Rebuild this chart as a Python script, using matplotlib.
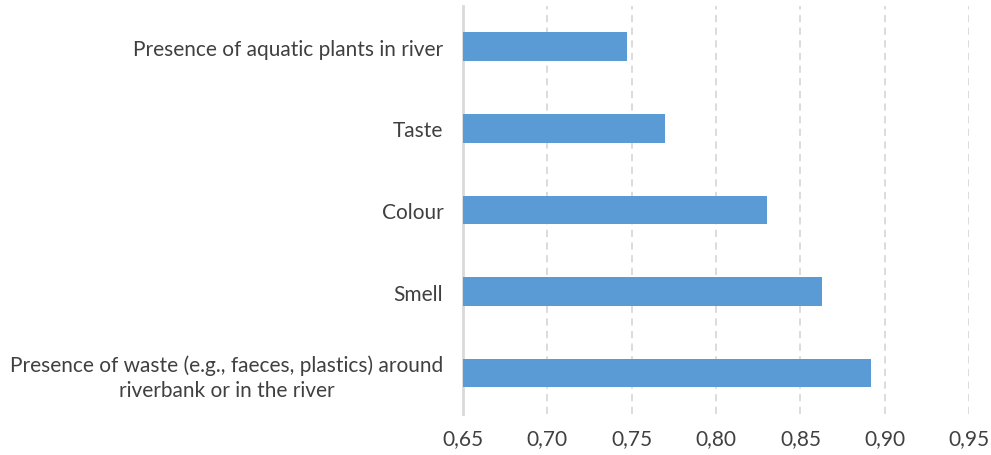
import numpy as np
import matplotlib.pyplot as plt
from matplotlib.ticker import FuncFormatter

# Categories (top to bottom) and their scores
categories = ["Presence of aquatic plants in river",
              "Taste",
              "Colour",
              "Smell",
              "Presence of waste (e.g., faeces, plastics) around\nriverbank or in the river"]
values = [0.747, 0.770, 0.830, 0.863, 0.892]
x_ticks = [0.65, 0.70, 0.75, 0.80, 0.85, 0.90, 0.95]

plt.rcParams['font.family'] = ['Lato', 'DejaVu Sans']

fig = plt.figure(figsize=(9.91, 4.56), dpi=100)
ax = fig.add_axes([0.467, 0.090, 0.511, 0.895])

y = np.arange(len(categories))
ax.barh(y, [v - 0.65 for v in values], left=0.65, height=0.35,
        color='#5B9BD5', zorder=3)

ax.set_xlim(0.65, 0.95)
ax.set_ylim(len(categories) - 0.5, -0.5)
ax.set_xticks(x_ticks)
ax.xaxis.set_major_formatter(FuncFormatter(lambda v, p: f"{v:.2f}".replace('.', ',')))
ax.set_yticks(y)
ax.set_yticklabels(categories, multialignment='center', linespacing=1.3)

ax.tick_params(axis='both', length=0, labelsize=15, labelcolor='#404040')
ax.tick_params(axis='y', pad=14)
ax.tick_params(axis='x', pad=10)

# dashed vertical gridlines
for t in x_ticks[1:]:
    ax.axvline(t, color='#D9D9D9', linestyle=(0, (4, 3)), linewidth=1.3, zorder=1)

for s in ['top', 'right', 'bottom']:
    ax.spines[s].set_visible(False)
ax.spines['left'].set_color('#D9D9D9')
ax.spines['left'].set_linewidth(2)

fig.savefig('out.png', dpi=100)
